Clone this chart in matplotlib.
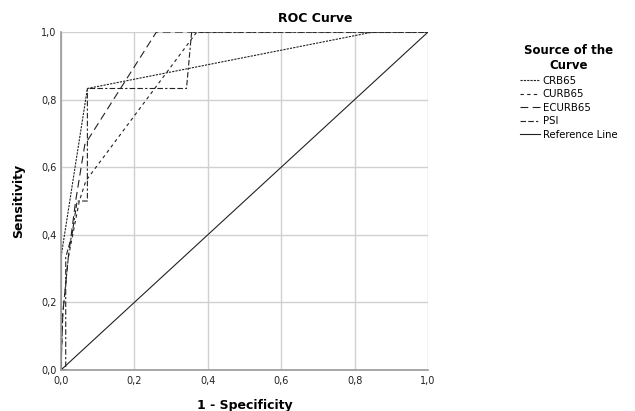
import matplotlib
matplotlib.use('Agg')
import matplotlib.pyplot as plt
from matplotlib.ticker import FuncFormatter

# ROC points (1 - specificity, sensitivity)
crb65_x = [0, 0, 0.072, 0.85, 1.0]
crb65_y = [0, 0.333, 0.833, 1.0, 1.0]

curb65_x = [0, 0.005, 0.02, 0.05, 0.068, 0.37, 1.0]
curb65_y = [0, 0.167, 0.333, 0.5, 0.56, 1.0, 1.0]

ecurb65_x = [0, 0.005, 0.02, 0.04, 0.065, 0.26, 1.0]
ecurb65_y = [0, 0.167, 0.333, 0.5, 0.667, 1.0, 1.0]

psi_x = [0, 0.013, 0.013, 0.03, 0.044, 0.072, 0.072, 0.342, 0.356, 1.0]
psi_y = [0, 0, 0.333, 0.4, 0.5, 0.5, 0.833, 0.833, 1.0, 1.0]

ref_x = [0, 1]
ref_y = [0, 1]

ticks = [0, 0.2, 0.4, 0.6, 0.8, 1.0]

plt.rcParams['font.family'] = ['DejaVu Sans']

fig = plt.figure(figsize=(6.35, 4.11), dpi=100)
ax = fig.add_axes([0.096, 0.0998, 0.578, 0.8222])

lc = '#222222'
ax.plot(crb65_x, crb65_y, color=lc, lw=0.8, dashes=(2, 1), label='CRB65')
ax.plot(curb65_x, curb65_y, color=lc, lw=0.8, dashes=(3, 3), label='CURB65')
ax.plot(ecurb65_x, ecurb65_y, color=lc, lw=0.8, dashes=(7, 4), label='ECURB65')
ax.plot(psi_x, psi_y, color=lc, lw=0.8, dashes=(5, 2, 5, 2, 2, 2), label='PSI')
ax.plot(ref_x, ref_y, color=lc, lw=0.8, label='Reference Line')

ax.set_xlim(0, 1)
ax.set_ylim(0, 1)
ax.set_xticks(ticks)
ax.set_yticks(ticks)
fmt = FuncFormatter(lambda v, p: f"{v:.1f}".replace('.', ','))
ax.xaxis.set_major_formatter(fmt)
ax.yaxis.set_major_formatter(fmt)
ax.tick_params(length=0, labelsize=7, colors='#222222')
ax.tick_params(axis='x', pad=4)
ax.tick_params(axis='y', pad=3)
ax.grid(True, color='#d0d0d0', lw=1)
ax.set_axisbelow(True)
for s in ['top', 'right']:
    ax.spines[s].set_visible(False)
for s in ['left', 'bottom']:
    ax.spines[s].set_color('#999999')
    ax.spines[s].set_linewidth(1.2)

ax.set_xlabel('1 - Specificity', fontsize=9, fontweight='bold', labelpad=10)
ax.set_ylabel('Sensitivity', fontsize=9, fontweight='bold', labelpad=12)
fig.text(0.497, 0.955, 'ROC Curve', ha='center', va='center',
         fontsize=9, fontweight='bold')

leg = fig.legend(loc='upper left', bbox_to_anchor=(0.805, 0.915), frameon=False,
                 fontsize=7.3, handlelength=1.9, handletextpad=0.3,
                 labelspacing=0.35, title='Source of the\nCurve',
                 title_fontproperties={'weight': 'bold', 'size': 8.5})
leg.get_title().set_multialignment('center')
leg._legend_box.align = 'center'

fig.savefig('out.png', dpi=100)
